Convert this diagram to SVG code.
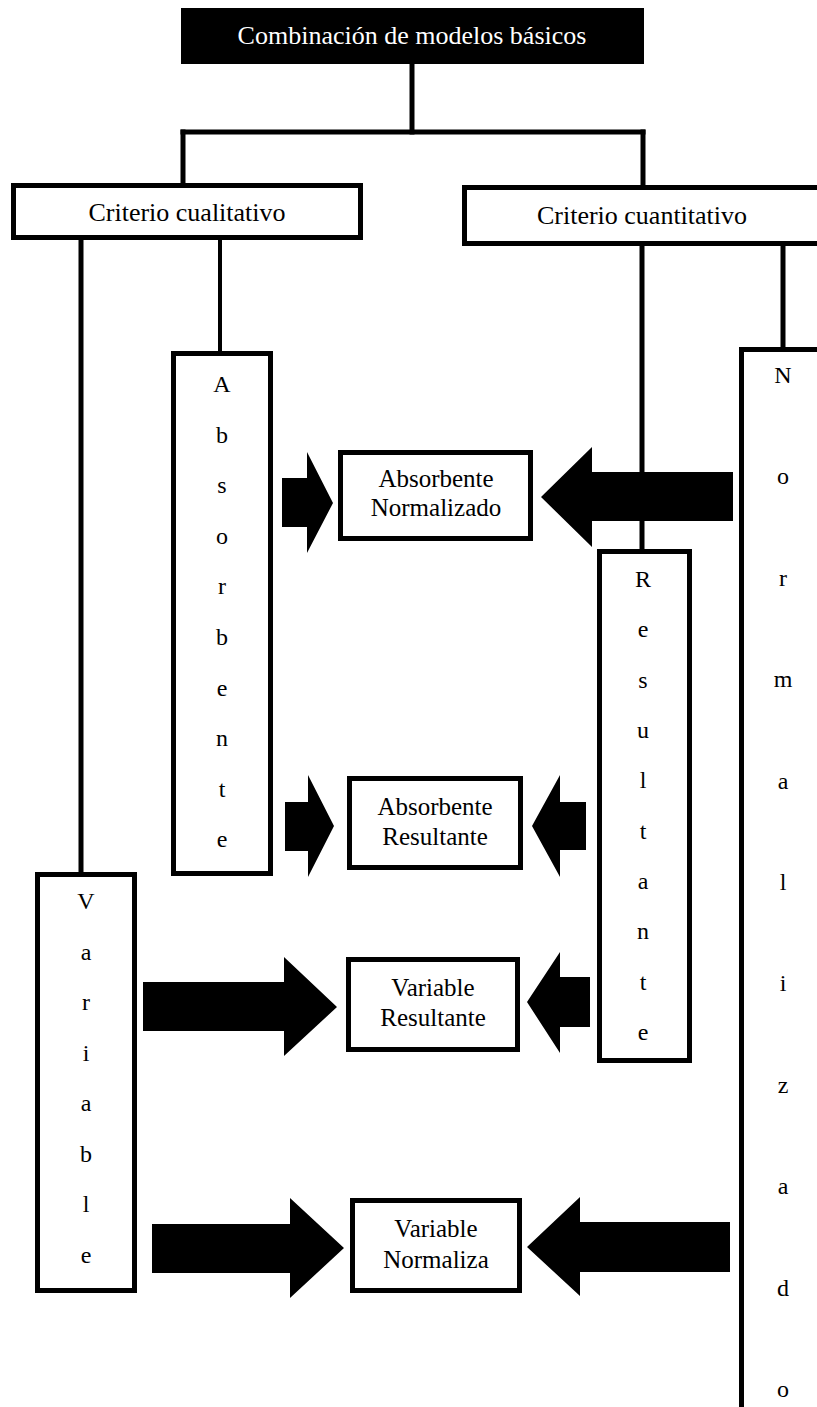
<svg xmlns="http://www.w3.org/2000/svg" width="817" height="1407" viewBox="0 0 817 1407">
  <style>
    .box { fill: #ffffff; stroke: #000000; stroke-width: 5; }
    .title { fill: #000000; }
    .line { stroke: #000000; stroke-width: 5; fill: none; stroke-linecap: square; }
    .thin { stroke-width: 4; }
    .arrow { fill: #000000; stroke: none; }
    .lbl { font-family: "Liberation Serif", "Times New Roman", serif; font-size: 25px; fill: #000000; text-anchor: middle; }
    .big { font-size: 26px; }
    .ttl { font-family: "Liberation Serif", "Times New Roman", serif; font-size: 26px; fill: #ffffff; text-anchor: middle; }
    .vchar { font-family: "Liberation Serif", "Times New Roman", serif; font-size: 24px; fill: #000000; text-anchor: middle; }
  </style>
  <rect width="817" height="1407" fill="#ffffff"/>

  <!-- connectors: tree lines and block arrows -->
  <g id="connectors">
    <line class="line" x1="412" y1="64" x2="412" y2="132"/>
    <line class="line" x1="183" y1="132" x2="643" y2="132"/>
    <line class="line" x1="183" y1="132" x2="183" y2="185"/>
    <line class="line" x1="643" y1="132" x2="643" y2="187"/>
    <line class="line" x1="81" y1="240" x2="81" y2="874"/>
    <line class="line thin" x1="220" y1="240" x2="220" y2="353"/>
    <line class="line" x1="642" y1="246" x2="642" y2="551"/>
    <line class="line" x1="783" y1="246" x2="783" y2="349"/>

    <polygon class="arrow" points="282,478 307,478 307,452 333,503 307,553 307,527 282,527"/>
    <polygon class="arrow" points="733,472 592,472 592,447 541,497 592,547 592,521 733,521"/>
    <polygon class="arrow" points="285,802 308,802 308,775 334,826 308,877 308,851 285,851"/>
    <polygon class="arrow" points="586,802 560,802 560,775 532,826 560,877 560,850 586,850"/>
    <polygon class="arrow" points="143,982 284,982 284,957 337,1007 284,1056 284,1031 143,1031"/>
    <polygon class="arrow" points="590,977 560,977 560,952 527,1002 560,1053 560,1027 590,1027"/>
    <polygon class="arrow" points="152,1224 290,1224 290,1198 344,1248 290,1298 290,1273 152,1273"/>
    <polygon class="arrow" points="730,1222 580,1222 580,1197 527,1247 580,1296 580,1272 730,1272"/>
  </g>

  <g id="combinacion">
    <rect class="title" x="181" y="8" width="463" height="56"/>
    <text class="ttl" x="412" y="44">Combinación de modelos básicos</text>
  </g>

  <g id="criterio-cualitativo">
    <rect class="box" x="13.5" y="185.5" width="347" height="52"/>
    <text class="lbl big" x="187" y="221">Criterio cualitativo</text>
  </g>

  <g id="criterio-cuantitativo">
    <rect class="box" x="464.5" y="187.5" width="360" height="56"/>
    <text class="lbl big" x="642" y="224">Criterio cuantitativo</text>
  </g>

  <g id="absorbente">
    <rect class="box" x="173.5" y="353.5" width="97" height="520"/>
    <text class="vchar" x="222" y="392">A</text>
    <text class="vchar" x="222" y="443">b</text>
    <text class="vchar" x="222" y="493">s</text>
    <text class="vchar" x="222" y="544">o</text>
    <text class="vchar" x="222" y="594">r</text>
    <text class="vchar" x="222" y="645">b</text>
    <text class="vchar" x="222" y="696">e</text>
    <text class="vchar" x="222" y="746">n</text>
    <text class="vchar" x="222" y="797">t</text>
    <text class="vchar" x="222" y="847">e</text>
  </g>

  <g id="resultante">
    <rect class="box" x="599.5" y="551.5" width="90" height="509"/>
    <text class="vchar" x="643" y="587">R</text>
    <text class="vchar" x="643" y="637">e</text>
    <text class="vchar" x="643" y="688">s</text>
    <text class="vchar" x="643" y="738">u</text>
    <text class="vchar" x="643" y="788">l</text>
    <text class="vchar" x="643" y="839">t</text>
    <text class="vchar" x="643" y="889">a</text>
    <text class="vchar" x="643" y="939">n</text>
    <text class="vchar" x="643" y="990">t</text>
    <text class="vchar" x="643" y="1040">e</text>
  </g>

  <g id="variable">
    <rect class="box" x="37.5" y="874.5" width="97" height="416"/>
    <text class="vchar" x="86" y="909">V</text>
    <text class="vchar" x="86" y="960">a</text>
    <text class="vchar" x="86" y="1010">r</text>
    <text class="vchar" x="86" y="1061">i</text>
    <text class="vchar" x="86" y="1111">a</text>
    <text class="vchar" x="86" y="1162">b</text>
    <text class="vchar" x="86" y="1212">l</text>
    <text class="vchar" x="86" y="1263">e</text>
  </g>

  <g id="normalizado">
    <rect class="box" x="741.5" y="349.5" width="100" height="1100"/>
    <text class="vchar" x="783" y="383">N</text>
    <text class="vchar" x="783" y="484">o</text>
    <text class="vchar" x="783" y="586">r</text>
    <text class="vchar" x="783" y="687">m</text>
    <text class="vchar" x="783" y="789">a</text>
    <text class="vchar" x="783" y="890">l</text>
    <text class="vchar" x="783" y="991">i</text>
    <text class="vchar" x="783" y="1093">z</text>
    <text class="vchar" x="783" y="1194">a</text>
    <text class="vchar" x="783" y="1296">d</text>
    <text class="vchar" x="783" y="1397">o</text>
  </g>

  <g id="absorbente-normalizado">
    <rect class="box" x="340.5" y="452.5" width="190" height="86"/>
    <text class="lbl" x="436" y="487">Absorbente</text>
    <text class="lbl" x="436" y="516">Normalizado</text>
  </g>

  <g id="absorbente-resultante">
    <rect class="box" x="349.5" y="778.5" width="171" height="89"/>
    <text class="lbl" x="435" y="815">Absorbente</text>
    <text class="lbl" x="435" y="845">Resultante</text>
  </g>

  <g id="variable-resultante">
    <rect class="box" x="348.5" y="959.5" width="169" height="90"/>
    <text class="lbl" x="433" y="996">Variable</text>
    <text class="lbl" x="433" y="1026">Resultante</text>
  </g>

  <g id="variable-normaliza">
    <rect class="box" x="352.5" y="1200.5" width="167" height="90"/>
    <text class="lbl" x="436" y="1237">Variable</text>
    <text class="lbl" x="436" y="1268">Normaliza</text>
  </g>
</svg>
